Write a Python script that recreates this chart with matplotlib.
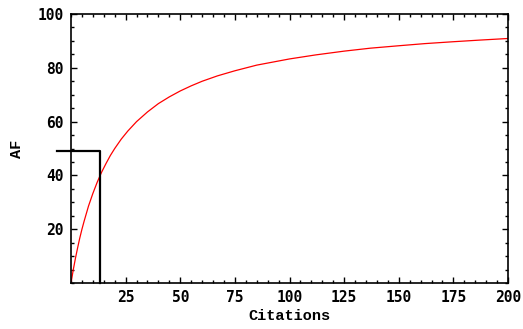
import matplotlib
matplotlib.use("Agg")
import matplotlib.pyplot as plt
from matplotlib.ticker import MultipleLocator, FixedLocator

# Red curve
citations = [0, 1, 2, 3, 4, 5, 6, 8, 10, 12, 14, 16, 18, 20, 23, 26, 30, 35, 40, 45, 50, 55, 60, 67,
             75, 85, 100, 112, 125, 137, 150, 162, 175, 187, 200]
af_values = [0, 4.8, 9.1, 13, 16.7, 20, 23, 28.6, 33.3, 37.5, 41.2, 44.4, 47.4, 50, 53.5, 56.5, 60,
             63.6, 66.7, 69.2, 71.4, 73.3, 75, 77, 78.9, 81, 83.3, 84.8, 86.2, 87.3, 88.2, 89, 89.7,
             90.3, 90.9]

# Black step line
step_x = [-6.5, 13.3, 13.3]
step_y = [49, 49, 0]

x_ticks = [25, 50, 75, 100, 125, 150, 175, 200]
y_ticks = [20, 40, 60, 80, 100]

font = "DejaVu Sans Mono"
label_font = "Liberation Mono"

fig = plt.figure(figsize=(5.23, 3.29), dpi=100)
ax = fig.add_axes([0.1358, 0.1398, 0.8355, 0.8176])

ax.plot(citations, af_values, color="red", lw=0.9)
ax.plot(step_x, step_y, color="black", lw=1.6, clip_on=False)

ax.set_xlim(0, 200)
ax.set_ylim(0, 100)
ax.xaxis.set_major_locator(FixedLocator(x_ticks))
ax.yaxis.set_major_locator(FixedLocator(y_ticks))
ax.xaxis.set_minor_locator(MultipleLocator(5))
ax.yaxis.set_minor_locator(MultipleLocator(5))
ax.tick_params(which="both", direction="in", top=True, right=True, width=1)
ax.tick_params(which="major", length=4, labelsize=10.5, pad=5)
ax.tick_params(which="minor", length=2)
for lab in ax.get_xticklabels() + ax.get_yticklabels():
    lab.set_family(font)
    lab.set_weight("bold")

for s in ax.spines.values():
    s.set_linewidth(1.2)

ax.set_xlabel("Citations", family=label_font, weight="bold", fontsize=11, labelpad=3)
ax.set_ylabel("AF", family=label_font, weight="bold", fontsize=11, labelpad=10)

fig.savefig("out.png", dpi=100)
